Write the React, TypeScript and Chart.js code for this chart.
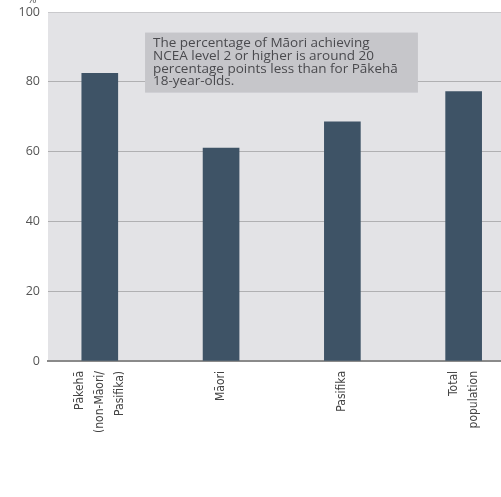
import React, { useEffect, useRef } from "react";
import { Chart, registerables } from "chart.js";

Chart.register(...registerables);

const CATEGORIES: string[][] = [
  ["Pākehā", "(non-Māori/", "Pasifika)"],
  ["Māori"],
  ["Pasifika"],
  ["Total", "population"],
];
const VALUES: number[] = [82.4, 61.0, 68.5, 77.2];
const Y_TICKS: number[] = [0, 20, 40, 60, 80, 100];
const NOTE_LINES: string[] = [
  "The percentage of Māori achieving",
  "NCEA level 2 or higher is around 20",
  "percentage points less than for Pākehā",
  "18-year-olds.",
];
// annotation box in data units (x: category index, y: percent)
const NOTE_BOX = { x0: 0.373, x1: 2.623, y0: 76.9, y1: 94.1 };

const BAR_COLOR = "#3e5366";
const PLOT_BG = "#e3e3e6";
const X_MIN = -0.427;
const X_MAX = 3.308;
const PX_PER_UNIT = 453 / (X_MAX - X_MIN);
const LABEL_LINE_H = 20;

export default function App() {
  const ref = useRef<HTMLCanvasElement | null>(null);

  useEffect(() => {
    if (!ref.current) return;
    const bgPlugin = {
      id: "bg",
      beforeDraw(chart: any) {
        const { ctx, chartArea } = chart;
        ctx.save();
        ctx.fillStyle = PLOT_BG;
        ctx.fillRect(chartArea.left, chartArea.top, chartArea.right - chartArea.left, chartArea.bottom - chartArea.top);
        ctx.restore();
      },
      afterDraw(chart: any) {
        const { ctx } = chart;
        const xs = chart.scales.x;
        const ys = chart.scales.y;
        const l = xs.getPixelForValue(NOTE_BOX.x0);
        const r = xs.getPixelForValue(NOTE_BOX.x1);
        const t = ys.getPixelForValue(NOTE_BOX.y1);
        const b = ys.getPixelForValue(NOTE_BOX.y0);
        ctx.save();
        ctx.fillStyle = "#c6c6ca";
        ctx.fillRect(l, t, r - l, b - t);
        ctx.fillStyle = "#4a4a4e";
        ctx.font = "13.5px 'Open Sans', sans-serif";
        ctx.textBaseline = "middle";
        ctx.textAlign = "left";
        NOTE_LINES.forEach((line, i) => {
          ctx.fillText(line, l + 8, t + 10.5 + i * 12.8);
        });
        ctx.fillStyle = "#555";
        ctx.font = "11px 'Open Sans', sans-serif";
        ctx.textAlign = "center";
        ctx.textBaseline = "alphabetic";
        ctx.fillText("%", 32, 3);
        ctx.restore();
      },
    };

    const chart = new Chart(ref.current, {
      type: "bar",
      data: {
        datasets: [
          {
            data: VALUES.map((v, i) => ({ x: i, y: v })),
            backgroundColor: BAR_COLOR,
            barThickness: 36,
            borderWidth: 0,
          },
        ],
      },
      options: {
        responsive: false,
        animation: false,
        devicePixelRatio: 1,
        layout: { padding: { top: 12, left: 0, right: 0, bottom: 0 } },
        plugins: { legend: { display: false }, tooltip: { enabled: false }, title: { display: false } },
        scales: {
          x: {
            type: "linear",
            offset: false,
            min: X_MIN,
            max: X_MAX,
            afterBuildTicks: (axis: any) => {
              // shift multi-line labels so the stack is centred on its bar
              axis.ticks = CATEGORIES.map((lines, i) => ({
                value: i - ((lines.length - 1) * LABEL_LINE_H) / 2 / PX_PER_UNIT,
              }));
            },
            afterFit: (axis: any) => {
              axis.height = 136;
              axis.paddingLeft = 0;
              axis.paddingRight = 0;
            },
            grid: { display: false, drawTicks: false },
            border: { display: true, color: "#8a8a8a", width: 2 },
            ticks: {
              autoSkip: false,
              maxRotation: 90,
              minRotation: 90,
              padding: 10,
              color: "#444",
              font: {
                family: "'Liberation Sans Narrow', 'DejaVu Sans Condensed', Roboto, sans-serif",
                size: 12,
                lineHeight: LABEL_LINE_H / 12,
              },
              callback: (_v: any, idx: number) => CATEGORIES[idx] ?? "",
            },
          },
          y: {
            min: 0,
            max: 100,
            afterBuildTicks: (axis: any) => {
              axis.ticks = Y_TICKS.map((v) => ({ value: v }));
            },
            afterFit: (axis: any) => {
              axis.width = 48;
              axis.paddingTop = 0;
              axis.paddingBottom = 0;
            },
            grid: {
              drawTicks: false,
              color: (c: any) => (c.tick && c.tick.value === 100 ? "#c9c9cc" : "#b0b0b2"),
              lineWidth: 1,
            },
            border: { display: false },
            ticks: {
              padding: 8,
              color: "#555",
              font: { family: "'Open Sans', sans-serif", size: 12.5 },
            },
          },
        },
      },
      plugins: [bgPlugin],
    } as any);
    return () => chart.destroy();
  }, []);

  return (
    <div style={{ position: "fixed", left: 0, top: 0, width: 501, height: 497, overflow: "hidden", background: "#fff" }}>
      <canvas ref={ref} width={501} height={497} style={{ display: "block" }} />
    </div>
  );
}
